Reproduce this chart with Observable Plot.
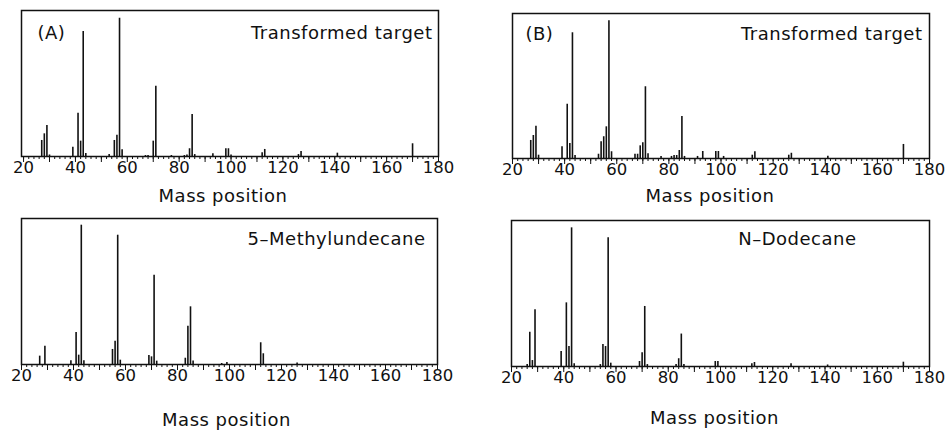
<!DOCTYPE html>
<html><head><meta charset="utf-8">
<script src="https://cdn.jsdelivr.net/npm/d3@7"></script>
<script src="https://cdn.jsdelivr.net/npm/@observablehq/plot@0.6"></script>
<style>
body{margin:0;background:#fff;}
#c{position:relative;width:951px;height:431px;overflow:hidden;background:#fff;}
#c svg{position:absolute;}
#c svg g[aria-label="text"] text{letter-spacing:0.5px;}
</style></head><body><div id="c"></div>
<script>
// x-axis tick labels and tick positions
const xLabels = [20, 40, 60, 80, 100, 120, 140, 160, 180];
const xMajor = [20, 30, 40, 50, 60, 70, 80, 90, 100, 110, 120, 130, 140, 150, 160, 170, 180];
const xMinor = d3.range(20, 181, 2);
const xLabel = "Mass position";

// (A) Transformed target
const massA1 = [27, 28, 29, 30, 39, 41, 42, 43, 44, 53, 55, 56, 57, 58, 67, 68, 70, 71, 77, 82, 83, 84, 85, 86, 93, 98, 99, 100, 112, 113, 126, 127, 141, 170];
const intA1  = [11.6, 16.4, 22.4, 1.1, 6.7, 31.3, 11.1, 90.4, 2.2, 1.4, 11.6, 15.4, 100, 4.8, 0.7, 0.7, 11.1, 50.8, 0.7, 0.7, 1.1, 5.6, 30.4, 1.4, 2, 5.6, 5.6, 1.1, 2.7, 5.1, 1.4, 3.6, 2.4, 9.2];

// (B) Transformed target
const massB1 = [27, 28, 29, 30, 39, 41, 42, 43, 44, 53, 54, 55, 56, 57, 58, 67, 68, 69, 70, 71, 72, 77, 81, 82, 83, 84, 85, 86, 91, 93, 98, 99, 101, 112, 113, 126, 127, 141, 170];
const intB1  = [13.1, 16.7, 23.5, 2.4, 8.5, 39.4, 10.9, 91.3, 2.2, 3.1, 12.1, 15.8, 23.0, 100, 4.9, 3.1, 3.1, 9.2, 11.5, 52.1, 3.5, 1.5, 1.5, 2.2, 2.2, 5.8, 30.5, 1.5, 1.5, 5.1, 5.1, 5.1, 1.5, 2.4, 4.9, 2.4, 3.8, 1.7, 10.2];

// 5-Methylundecane
const massA2 = [27, 29, 39, 41, 42, 43, 44, 55, 56, 57, 58, 69, 70, 71, 72, 83, 84, 85, 86, 97, 99, 112, 113, 126];
const intA2  = [6, 13.1, 2.7, 23, 6.7, 100, 2.7, 10.8, 16.7, 92.8, 3.1, 6.5, 5.5, 64.1, 2.4, 4.5, 27.5, 41.4, 2.5, 0.7, 1.4, 15.6, 7.7, 1.1];

// N-Dodecane
const massB2 = [26, 27, 28, 29, 39, 41, 42, 43, 44, 54, 55, 56, 57, 58, 69, 70, 71, 72, 83, 84, 85, 86, 98, 99, 112, 113, 127, 141, 170];
const intB2  = [1.4, 24.7, 4.3, 40.9, 10.8, 45.9, 14.4, 100, 1.9, 1.4, 15.9, 14.4, 92.8, 2.4, 3.6, 9.9, 43.3, 1.4, 1.4, 5.6, 23.4, 1.4, 3.6, 3.6, 1.9, 2.9, 1.9, 1.1, 3.1];

const panels = [
  {mass: massA1, val: intA1, tag: "(A)", name: "Transformed target", left: 0, top: 0, width: 470, height: 215, xmin: 19.2,
   mt: 10, mr: 32, mb: 59, ml: 21, ymax: 105.6, tagDx: 16, tagDy: 23, nameDx: -6, nameDy: 23, labDx: -7, labDy: 40},
  {mass: massB1, val: intB1, tag: "(B)", name: "Transformed target", left: 470, top: 0, width: 481, height: 215, xmin: 20,
   mt: 13, mr: 22, mb: 57, ml: 42, ymax: 105.3, tagDx: 13, tagDy: 21, nameDx: -7, nameDy: 21, labDx: -11, labDy: 38},
  {mass: massA2, val: intA2, tag: null, name: "5–Methylundecane", left: 0, top: 210, width: 470, height: 221, xmin: 20,
   mt: 8, mr: 33, mb: 67, ml: 21, ymax: 104.8, nameDx: -12, nameDy: 21, labDx: -3, labDy: 56},
  {mass: massB2, val: intB2, tag: null, name: "N–Dodecane", left: 470, top: 210, width: 481, height: 221, xmin: 20,
   mt: 10, mr: 22, mb: 65, ml: 41, ymax: 105.3, nameDx: -73, nameDy: 19, labDx: -6, labDy: 52}
];

const root = document.getElementById("c");
for (const p of panels) {
  const data = p.mass.map((m, i) => ({m, v: p.val[i]}));
  const marks = [
    Plot.ruleX(data, {x: "m", y1: 0, y2: "v", stroke: "#111", strokeWidth: 1.6}),
    Plot.axisX(xMinor, {tickSize: 3, fill: "none", label: null, stroke: "#111"}),
    Plot.axisX(xMajor, {tickSize: 6, fill: "none", label: null, stroke: "#111"}),
    Plot.axisX(xLabels, {tickSize: 0, tickPadding: 5, label: null, fontSize: 16.5, fill: "#111"}),
    Plot.frame({stroke: "#111", strokeWidth: 1.5}),
    Plot.text([p.name], {frameAnchor: "top-right", textAnchor: "end", lineAnchor: "middle", dx: p.nameDx, dy: p.nameDy, fontSize: 18, fill: "#111"}),
    Plot.text([xLabel], {frameAnchor: "bottom", lineAnchor: "middle", dx: p.labDx, dy: p.labDy, fontSize: 18, fill: "#111"})
  ];
  if (p.tag) marks.push(Plot.text([p.tag], {frameAnchor: "top-left", textAnchor: "start", lineAnchor: "middle", dx: p.tagDx, dy: p.tagDy, fontSize: 18, fill: "#111"}));
  const svg = Plot.plot({
    width: p.width, height: p.height,
    marginTop: p.mt, marginRight: p.mr, marginBottom: p.mb, marginLeft: p.ml,
    style: {fontFamily: "DejaVu Sans", background: "transparent", color: "#111"},
    x: {domain: [p.xmin, 180], axis: null},
    y: {domain: [0, p.ymax], axis: null},
    marks
  });
  svg.style.left = p.left + "px";
  svg.style.top = p.top + "px";
  root.appendChild(svg);
}
</script>
</body></html>
